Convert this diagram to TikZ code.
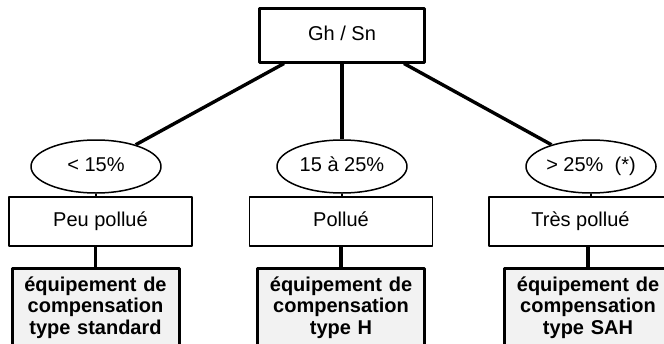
\documentclass[tikz,border=0pt]{standalone}
\usepackage{fontspec}
\setmainfont{Liberation Sans}
\usetikzlibrary{shapes.geometric}

\begin{document}
\begin{tikzpicture}[x=1pt, y=-1pt, line join=round,
	txt/.style={font=\fontsize{20}{21.5}\selectfont, text height=14.5pt, text depth=4.2pt},
	boite/.style={txt, draw, line width=1.8pt, minimum width=183pt, minimum height=49pt, inner sep=0pt},
	seuil/.style={txt, draw, ellipse, line width=1.5pt, minimum width=130pt, minimum height=53pt, inner sep=0pt},
	equip/.style={draw, line width=3pt, fill=gray!10, font=\fontsize{20}{21.5}\selectfont\bfseries, text width=150pt, align=center, minimum width=167pt, minimum height=78pt, anchor=north, inner sep=0pt},
	lien/.style={line width=3.4pt},
	fin/.style={line width=1.5pt}]
	\useasboundingbox (0,0) rectangle (664,343);
	
	% Rapport Gh / Sn
	\node[boite, line width=3pt, minimum width=165pt, minimum height=54pt] (top) at (342,35) {Gh / Sn};
	
	% Seuils
	\node[seuil] (e1) at (96,166.5) {< 15\%};
	\node[seuil] (e2) at (342,166.5) {15 à 25\%};
	\node[seuil] (e3) at (591,166.5) {> 25\%\ \ (*)};
	
	% Niveau de pollution
	\node[boite] (b1) at (100.5,221.5) {Peu pollué};
	\node[boite] (b2) at (341,221.5) {Pollué};
	\node[boite] (b3) at (580.5,221.5) {Très pollué};
	
	% Equipements
	\node[equip] (d1) at (95.5,267) {équipement de\\compensation\\type standard};
	\node[equip] (d2) at (341,267) {équipement de\\compensation\\type H};
	\node[equip] (d3) at (588,267) {équipement de\\compensation\\type SAH};
	
	% Liaisons
	\draw[lien] ([xshift=26pt]top.south west) -- (e1);
	\draw[lien] (top) -- (e2);
	\draw[lien] ([xshift=-22pt]top.south east) -- (e3);
	\foreach \i in {1, 2, 3} {
		\draw[fin] (e\i.south) -- (e\i.south |- b\i.north);
		\draw[lien] (d\i.north) -- (d\i.north |- b\i.south);
	}
\end{tikzpicture}
\end{document}
